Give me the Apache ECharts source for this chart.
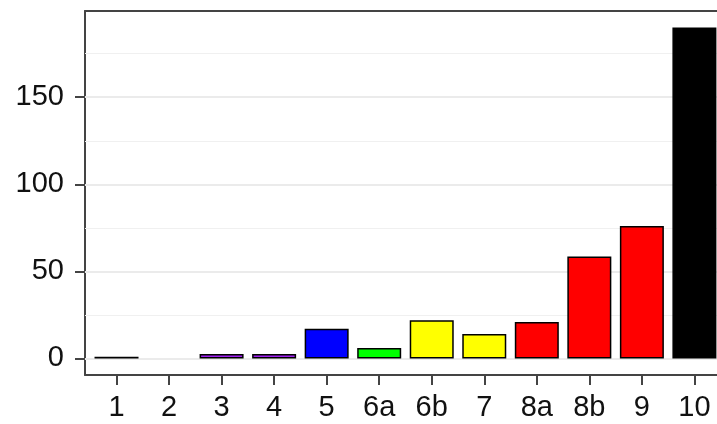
<!DOCTYPE html>
<html>
<head>
<meta charset="utf-8">
<script src="https://cdn.jsdelivr.net/npm/echarts@6/dist/echarts.min.js"></script>
<style>html,body{margin:0;padding:0;background:#fff;}#c{width:717px;height:424px;}</style>
</head>
<body>
<div id="c"></div>
<script>
const categories = ['1','2','3','4','5','6a','6b','7','8a','8b','9','10'];
const values = [1, null, 2.5, 2.5, 17, 6, 22, 14, 21, 58.6, 76, 190];
const barColors = ['#000000','#ffffff','#A020F0','#A020F0','#0000FF','#00FF00','#FFFF00','#FFFF00','#FF0000','#FF0000','#FF0000','#000000'];
const yMajor = [0, 50, 100, 150];
const yMinor = [25, 75, 125, 175];

const chart = echarts.init(document.getElementById('c'), null, {renderer: 'canvas'});
const xIdx = categories.map((c, i) => i);
const font = 'Liberation Sans';
const axisColor = '#444';

const gridLines = [];
yMinor.forEach(v => gridLines.push({yAxis: v, lineStyle: {color: '#f0f0f0', width: 1, type: 'solid'}}));
yMajor.forEach(v => gridLines.push({yAxis: v, lineStyle: {color: '#ebebeb', width: 2, type: 'solid'}}));

chart.setOption({
  animation: false,
  backgroundColor: '#ffffff',
  grid: {left: 85, top: 11, right: 0, bottom: 49, show: false},
  xAxis: [{
    type: 'value', min: -0.6, max: 11.43, position: 'bottom',
    axisLine: {show: true, onZero: false, lineStyle: {color: axisColor, width: 2}},
    axisTick: {show: true, customValues: xIdx, length: 10, lineStyle: {color: axisColor, width: 2}},
    axisLabel: {customValues: xIdx, formatter: v => categories[v], color: '#111', fontSize: 29, fontFamily: font, margin: 18},
    splitLine: {show: false}
  }, {
    type: 'value', min: -0.6, max: 11.43, position: 'top',
    axisLine: {show: true, onZero: false, lineStyle: {color: axisColor, width: 2}},
    axisTick: {show: false}, axisLabel: {show: false}, splitLine: {show: false}
  }],
  yAxis: {
    type: 'value', min: -9.5, max: 199.5,
    axisLine: {show: true, onZero: false, lineStyle: {color: axisColor, width: 2}},
    axisTick: {show: true, customValues: yMajor, length: 10, lineStyle: {color: axisColor, width: 2}},
    axisLabel: {customValues: yMajor, color: '#111', fontSize: 29, fontFamily: font, margin: 21},
    splitLine: {show: false}
  },
  series: [
    {
      type: 'line', data: [], z: 1, silent: true, xAxisIndex: 0,
      markLine: {silent: true, symbol: 'none', z: 1, label: {show: false}, data: gridLines, animation: false}
    },
    {
      type: 'bar', z: 3, barWidth: 44, xAxisIndex: 0,
      data: values.map((v, i) => ({value: [i, v], itemStyle: {color: barColors[i], borderColor: '#000', borderWidth: 1.5}}))
    }
  ]
});
</script>
</body>
</html>
